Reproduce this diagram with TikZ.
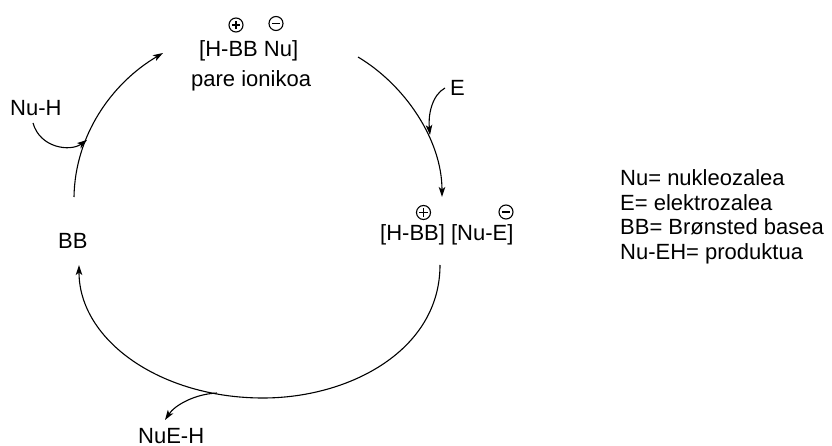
\documentclass[tikz,border=0pt]{standalone}
\usepackage{fontspec}
\setmainfont{Liberation Sans}
\usetikzlibrary{arrows.meta}
\begin{document}
\begin{tikzpicture}[x=1pt,y=-1pt,
  lbl/.style={anchor=base west,inner sep=0pt,font=\fontsize{22}{24}\selectfont},
  arr/.style={line width=1.1pt,-{Stealth[length=10pt,width=6.5pt,inset=2.5pt]}},
  chg/.style={draw,circle,line width=1.1pt,minimum size=14pt,inner sep=0pt},
  pluschg/.style={chg,path picture={\draw[line width=1.5pt]
      ([xshift=-4.2pt]path picture bounding box.center) -- ([xshift=4.2pt]path picture bounding box.center)
      ([yshift=-4.2pt]path picture bounding box.center) -- ([yshift=4.2pt]path picture bounding box.center);}},
  minuschg/.style={chg,path picture={\draw[line width=1.5pt]
      ([xshift=-4.2pt]path picture bounding box.center) -- ([xshift=4.2pt]path picture bounding box.center);}},
  ]
\useasboundingbox (0,0) rectangle (832,446);

% texts
\node[lbl] (ionpair) at (199,57) {[H-BB Nu]};
\node[lbl] (pare) at (191,87) {pare ionikoa};
\node[pluschg] (p1) at (236,25) {};
\node[minuschg] (m1) at (276,23.5) {};
\node[lbl] (nuh) at (10,116) {Nu-H};
\node[lbl] (e) at (450,95.5) {E};
\node[lbl] (prod) at (380,240.5) {[H-BB] [Nu-E]};
\node[pluschg] (p2) at (423.5,212.5) {};
\node[minuschg] (m2) at (506,212) {};
\node[lbl] (bb) at (58,248) {BB};
\node[lbl] (nueh) at (138,443) {NuE-H};

\node[lbl] (l1) at (620,186) {Nu= nukleozalea};
\node[lbl] (l2) at (620,210.3) {E= elektrozalea};
\node[lbl] (l3) at (620,234.7) {BB= Brønsted basea};
\node[lbl] (l4) at (620,259) {Nu-EH= produktua};

% connector end points
\coordinate (lA) at (74,197);
\coordinate (lJ) at (87,140);
\coordinate (lB) at (163,53);
\coordinate (rA) at (358,57);
\coordinate (rJ) at (430,135);
\coordinate (rB) at (442,197);
\coordinate (bA) at (440,265);
\coordinate (bM) at (263,398);
\coordinate (bJ) at (217,393);
\coordinate (bB) at (79,265);
\coordinate (nuhS) at (33,123);
\coordinate (eS) at (445,88);
\coordinate (nuehE) at (165,420);

% cycle
\draw[arr] (lA) .. controls (75,135) and (112,83) .. (lB);
\draw[arr] (rA) .. controls (405,85) and (442,140) .. (rB);
\draw[arr] (bA) .. controls (440,350) and (350,398) .. (bM)
             .. controls (160,398) and (79,340) .. (bB);

% side arrows
\draw[arr] (nuhS) .. controls (40,148) and (70,152) .. (lJ);
\draw[arr] (eS) .. controls (432,95) and (428,115) .. (rJ);
\draw[arr] (bJ) .. controls (195,394) and (175,405) .. (nuehE);
\end{tikzpicture}
\end{document}
